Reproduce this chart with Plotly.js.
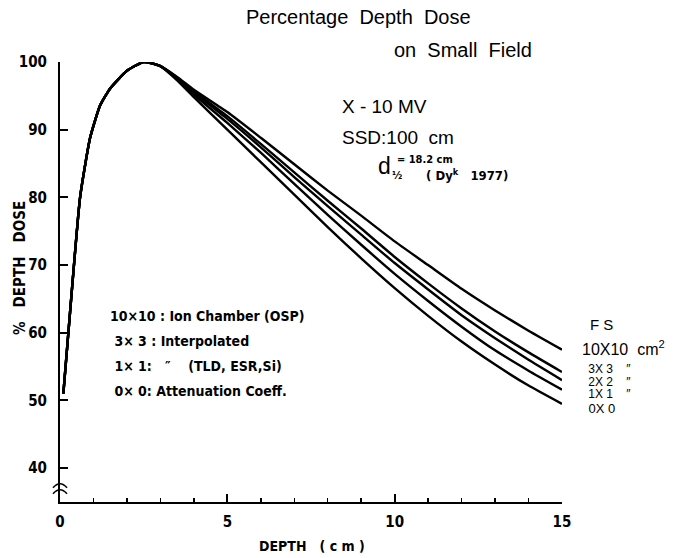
<!DOCTYPE html>
<html>
<head>
<meta charset="utf-8">
<script src="https://cdn.plot.ly/plotly-3.0.1.min.js"></script>
<style>html,body{margin:0;padding:0;background:#fff;}#chart{width:681px;height:558px;}</style>
</head>
<body>
<div id="chart"></div>
<script>
// ---- data ----
const depth = [0.1, 0.3, 0.6, 0.9, 1.2, 1.5, 2.0, 2.5, 3.0, 3.5, 4, 5, 6, 7, 8, 9, 10, 11, 12, 13, 14, 15];
const buildup = [51, 63, 80, 88.8, 93.6, 96.1, 98.7, 100, 99.4];
const fs10x10 = [97.8, 95.9, 92.6, 88.8, 84.9, 81.0, 77.3, 73.5, 70.0, 66.5, 63.3, 60.3, 57.5];
const fs3x3   = [97.7, 95.7, 92.0, 87.9, 83.7, 79.5, 75.4, 71.2, 67.3, 63.6, 60.2, 57.1, 54.2];
const fs2x2   = [97.6, 95.5, 91.6, 87.4, 83.0, 78.7, 74.5, 70.3, 66.4, 62.6, 59.2, 56.0, 53.0];
const fs1x1   = [97.5, 95.2, 91.0, 86.6, 82.0, 77.4, 73.0, 68.7, 64.7, 60.9, 57.4, 54.4, 51.6];
const fs0x0   = [97.3, 94.8, 90.0, 85.2, 80.4, 75.6, 71.0, 66.6, 62.5, 58.7, 55.3, 52.2, 49.5];
const seriesNames = ['10x10', '3x3', '2x2', '1x1', '0x0'];
const yTickVals = [40, 50, 60, 70, 80, 90, 100];

// ---- layout geometry ----
const L = 60, R = 119, T = 62, B = 56, WIDTH = 681, HEIGHT = 558;
const PW = WIDTH - L - R, PH = HEIGHT - T - B;
const FONT = 'Liberation Sans Narrow, DejaVu Sans Condensed, Liberation Sans, sans-serif';
const TFONT = 'Liberation Sans, Arial, sans-serif';

function ann(text, px, py, size, opts, fam, bold) {
  return Object.assign({
    text: text, xref: 'paper', yref: 'paper',
    x: (px - L) / PW, y: (T + PH - py) / PH,
    xanchor: 'left', yanchor: 'middle', showarrow: false,
    font: {family: fam || FONT, size: size, color: '#000', weight: bold ? 'bold' : 'normal'}
  }, opts || {});
}

const allSeries = [fs10x10, fs3x3, fs2x2, fs1x1, fs0x0];
const traces = allSeries.map((s, i) => ({
  x: depth, y: buildup.concat(s), name: seriesNames[i],
  type: 'scatter', mode: 'lines', line: {color: '#000', width: 2.4, shape: 'spline', smoothing: 0.5},
  cliponaxis: false, hoverinfo: 'skip'
}));

const annotations = [
  ann('Percentage  Depth  Dose', 358, 17, 20, {xanchor: 'center'}, TFONT),
  ann('on  Small  Field', 392, 50, 20, {}, TFONT),
  ann('X - 10 MV', 340, 106, 19, {}, TFONT),
  ann('SSD:100  cm', 340, 137, 19, {}, TFONT),
  ann('d', 376, 166, 23, {}, TFONT),
  ann('½', 390, 175, 11, {}, FONT, true),
  ann('= 18.2 cm', 395, 159, 11, {}, FONT, true),
  ann('( D<b>y</b><sup>k</sup>   1977)', 424, 175, 13, {}, FONT, true),
  ann('10×10 : Ion Chamber (OSP)', 108, 316, 14, {}, FONT, true),
  ann(' 3× 3 : Interpolated', 108, 341, 14, {}, FONT, true),
  ann(' 1× 1:   ″    (TLD, ESR,Si)', 108, 366, 14, {}, FONT, true),
  ann(' 0× 0: Attenuation Coeff.', 108, 391, 14, {}, FONT, true),
  ann('F S', 588, 324, 15, {}, TFONT),
  ann('10X10  cm<sup>2</sup>', 580, 348, 16, {}, TFONT),
  ann(' 3X 3    ″', 583, 369, 12, {}, TFONT),
  ann(' 2X 2    ″', 583, 381.5, 12, {}, TFONT),
  ann(' 1X 1    ″', 583, 394, 12, {}, TFONT),
  ann(' 0X 0', 583, 408, 13, {}, TFONT),
  ann('DEPTH   ( c m )', 312, 546, 14, {xanchor: 'center'}, FONT, true),
  ann('%   DEPTH   DOSE', 20, 268, 15, {xanchor: 'center', textangle: -90}, FONT, true)
];

const layout = {
  width: WIDTH, height: HEIGHT,
  margin: {l: L, r: R, t: T, b: B, pad: 0},
  paper_bgcolor: '#fff', plot_bgcolor: '#fff',
  showlegend: false,
  xaxis: {
    range: [0, 15], showgrid: false, zeroline: false,
    showline: true, linecolor: '#000', linewidth: 2,
    ticks: 'inside', ticklen: 8, tickwidth: 2, tickcolor: '#000', dtick: 5, tick0: 0,
    minor: {dtick: 1, ticks: 'inside', ticklen: 4, tickwidth: 1.5, tickcolor: '#000', showgrid: false},
    tickfont: {family: FONT, size: 15, color: '#000', weight: 'bold'},
    ticklabelstandoff: 5
  },
  yaxis: {
    range: [35, 100], showgrid: false, zeroline: false,
    showline: true, linecolor: '#000', linewidth: 2,
    ticks: 'inside', ticklen: 8, tickwidth: 2, tickcolor: '#000',
    tickmode: 'array', tickvals: yTickVals, ticktext: yTickVals.map(String),
    tickfont: {family: FONT, size: 15, color: '#000', weight: 'bold'},
    ticklabelstandoff: 8
  },
  annotations: annotations,
  shapes: [
    {type: 'path', xref: 'paper', yref: 'paper', xsizemode: 'pixel', ysizemode: 'pixel',
     xanchor: 0, yanchor: (36.8 - 35) / 65,
     path: 'M-7,-4 Q0,4 7,-4 M-7,2 Q0,10 7,2', line: {color: '#000', width: 1.6}, fillcolor: 'rgba(0,0,0,0)'}
  ]
};

Plotly.newPlot('chart', traces, layout, {displayModeBar: false, staticPlot: true});
</script>
</body>
</html>
